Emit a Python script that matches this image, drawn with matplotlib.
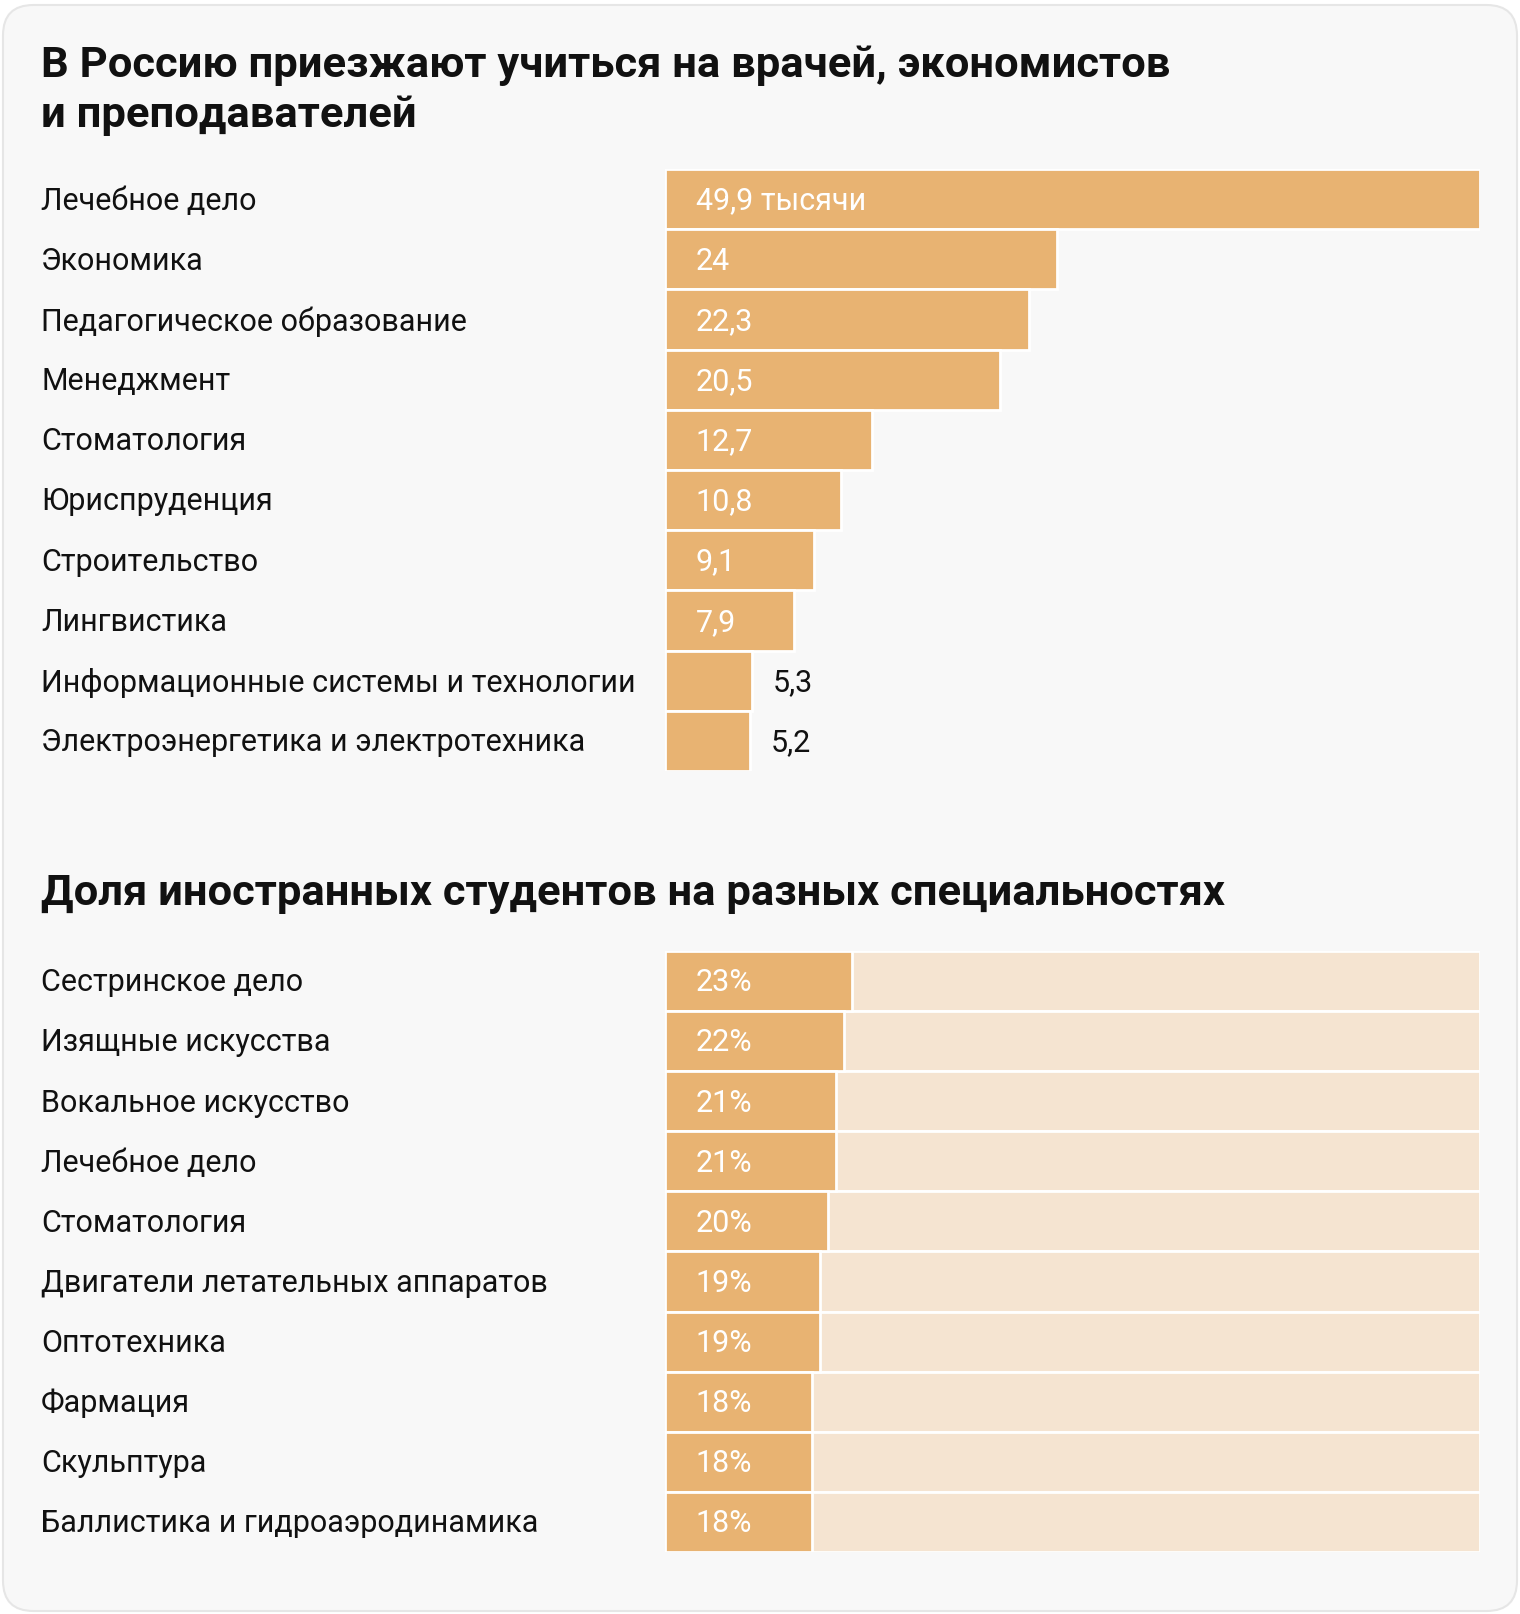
import matplotlib
matplotlib.use("Agg")
import matplotlib.pyplot as plt
from matplotlib.patches import FancyBboxPatch
import matplotlib.transforms as mtransforms

plt.rcParams['font.family'] = ['Roboto', 'DejaVu Sans']

# ---- data ----
title1_lines = ["В Россию приезжают учиться на врачей, экономистов", "и преподавателей"]
cats1 = ["Лечебное дело", "Экономика", "Педагогическое образование", "Менеджмент",
         "Стоматология", "Юриспруденция", "Строительство", "Лингвистика",
         "Информационные системы и технологии", "Электроэнергетика и электротехника"]
vals1 = [49.9, 24, 22.3, 20.5, 12.7, 10.8, 9.1, 7.9, 5.3, 5.2]
labels1 = ["49,9 тысячи", "24", "22,3", "20,5", "12,7", "10,8", "9,1", "7,9", "5,3", "5,2"]

title2 = "Доля иностранных студентов на разных специальностях"
cats2 = ["Сестринское дело", "Изящные искусства", "Вокальное искусство", "Лечебное дело",
         "Стоматология", "Двигатели летательных аппаратов", "Оптотехника", "Фармация",
         "Скульптура", "Баллистика и гидроаэродинамика"]
vals2 = [23, 22, 21, 21, 20, 19, 19, 18, 18, 18]
labels2 = ["23%", "22%", "21%", "21%", "20%", "19%", "19%", "18%", "18%", "18%"]

BAR = "#E8B372"
LIGHT = "#F5E4D1"
BG = "#F8F8F8"

W, H = 1520, 1614
fig = plt.figure(figsize=(W / 100, H / 100), dpi=100)
fig.patch.set_facecolor("white")

card = FancyBboxPatch((3 / W, 3 / H), (W - 6) / W, (H - 8) / H,
                      boxstyle="round,pad=0,rounding_size=0.02",
                      transform=fig.transFigure, facecolor=BG, edgecolor="#E6E6E6",
                      linewidth=1.5, zorder=-5, mutation_aspect=W / H)
fig.patches.append(card)

left = 665 / W
width = 815 / W
ax1 = fig.add_axes([left, 1 - 771 / H, width, 602 / H])
ax2 = fig.add_axes([left, 1 - 1552 / H, width, 601 / H])

FS = 22
LX = 41 / W
TFS = 31.3
DY = 0.03  # small downward nudge of text within a row

def setup(ax, n, xmax):
    ax.set_xlim(0, xmax)
    ax.set_ylim(n - 0.5, -0.5)
    ax.axis("off")
    ax.patch.set_alpha(0)

# top chart
setup(ax1, len(cats1), 49.9)
y1 = list(range(len(cats1)))
ax1.barh(y1, vals1, height=1.0, color=BAR, edgecolor="white", linewidth=2)
tr1 = mtransforms.blended_transform_factory(fig.transFigure, ax1.transData)
for i, (c, v, lab) in enumerate(zip(cats1, vals1, labels1)):
    fig.text(LX, i + DY, c, transform=tr1, fontsize=FS, va="center", ha="left", color="#111111")
    if v > 7:
        ax1.annotate(lab, (0, i + DY), xytext=(22, 0), textcoords="offset points",
                     va="center", ha="left", fontsize=FS, color="white")
    else:
        ax1.annotate(lab, (v, i + DY), xytext=(15, 0), textcoords="offset points",
                     va="center", ha="left", fontsize=FS, color="#111111")

# bottom chart
setup(ax2, len(cats2), 100)
y2 = list(range(len(cats2)))
ax2.barh(y2, [100] * len(cats2), height=1.0, color=LIGHT, edgecolor="white", linewidth=2)
ax2.barh(y2, vals2, height=1.0, color=BAR, edgecolor="white", linewidth=2)
tr2 = mtransforms.blended_transform_factory(fig.transFigure, ax2.transData)
for i, (c, v, lab) in enumerate(zip(cats2, vals2, labels2)):
    fig.text(LX, i + DY, c, transform=tr2, fontsize=FS, va="center", ha="left", color="#111111")
    ax2.annotate(lab, (0, i + DY), xytext=(22, 0), textcoords="offset points",
                 va="center", ha="left", fontsize=FS, color="white")

# titles
for k, (line, yc) in enumerate(zip(title1_lines, [66, 115])):
    fig.text(LX, 1 - yc / H, line, fontsize=TFS, fontweight="bold", va="center",
             ha="left", color="#111111")
fig.text(LX, 1 - 894 / H, title2, fontsize=TFS, fontweight="bold", va="center", ha="left",
         color="#111111")

fig.savefig("out.png", dpi=100, facecolor="white")
